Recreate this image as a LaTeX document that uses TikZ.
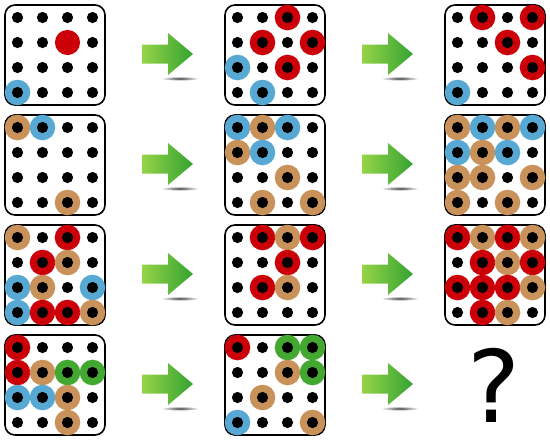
\documentclass[tikz,border=0pt]{standalone}
\usepackage{fontspec}
\usepackage{tikz}
\usepackage{xcolor}
\newfontfamily\signofont{DejaVu Sans}

\definecolor{rojo}{RGB}{204,0,8}
\definecolor{azul}{RGB}{88,168,212}
\definecolor{ocre}{RGB}{200,146,90}
\definecolor{verde}{RGB}{66,168,48}
\definecolor{verdeclaro}{RGB}{150,212,72}
\definecolor{verdeoscuro}{RGB}{52,162,50}

% cuadro: esquina (x,y) y lista col/fila/color
\newcommand{\cuadro}[3]{%
  \draw[marco] (#1,#2) rectangle ++(100,100);
  \foreach \c/\r/\col in {#3}
    \fill[\col] (#1+12.5+25*\c,#2+12.5+25*\r) circle (12.8pt);
  \foreach \c in {0,...,3}
    \foreach \r in {0,...,3}
      \fill (#1+12.5+25*\c,#2+12.5+25*\r) circle (5.6pt);
}

% flecha verde con sombra, centro (x,y)
\newcommand{\flecha}[2]{%
  \shade[inner color=black!75, outer color=white] (#1+13,#2+24.5) ellipse (19pt and 2.2pt);
  \shade[left color=verdeclaro, right color=verdeoscuro]
    (#1-25,#2-9.5) -- (#1+1,#2-9.5) -- (#1+1,#2-21) -- (#1+26,#2)
    -- (#1+1,#2+21) -- (#1+1,#2+9.5) -- (#1-25,#2+9.5) -- cycle;
}

\begin{document}
\begin{tikzpicture}[x=1pt,y=-1pt,
  marco/.style={line width=1.6pt, rounded corners=10pt, fill=white}]
\useasboundingbox (0,0) rectangle (550,440);

% Fila 1
\cuadro{5}{5}{0/3/azul}
\fill[rojo] (5+12.5+50,5+12.5+25) circle (12.6pt);
\cuadro{225}{5}{2/0/rojo, 1/1/rojo, 3/1/rojo, 2/2/rojo, 0/2/azul, 1/3/azul}
\cuadro{445}{5}{1/0/rojo, 3/0/rojo, 2/1/rojo, 3/2/rojo, 0/3/azul}
\flecha{167}{54}
\flecha{387}{54}

% Fila 2
\cuadro{5}{115}{0/0/ocre, 1/0/azul, 2/3/ocre}
\cuadro{225}{115}{0/0/azul, 1/0/ocre, 2/0/azul, 0/1/ocre, 1/1/azul, 2/2/ocre, 1/3/ocre, 3/3/ocre}
\cuadro{445}{115}{0/0/ocre, 1/0/azul, 2/0/ocre, 3/0/azul, 0/1/azul, 1/1/ocre, 2/1/azul,
  0/2/ocre, 1/2/ocre, 3/2/ocre, 0/3/ocre, 2/3/ocre}
\flecha{167}{164}
\flecha{387}{164}

% Fila 3
\cuadro{5}{225}{0/0/ocre, 2/0/rojo, 1/1/rojo, 2/1/ocre, 0/2/azul, 1/2/ocre, 3/2/azul,
  0/3/azul, 1/3/rojo, 2/3/rojo, 3/3/ocre}
\cuadro{225}{225}{1/0/rojo, 2/0/ocre, 3/0/rojo, 2/1/rojo, 1/2/rojo, 2/2/ocre}
\cuadro{445}{225}{0/0/rojo, 1/0/ocre, 2/0/rojo, 3/0/ocre, 1/1/rojo, 2/1/ocre, 3/1/rojo,
  0/2/rojo, 1/2/rojo, 2/2/rojo, 3/2/ocre, 1/3/rojo, 2/3/ocre}
\flecha{167}{274}
\flecha{387}{274}

% Fila 4
\cuadro{5}{335}{0/0/rojo, 0/1/rojo, 1/1/ocre, 2/1/verde, 3/1/verde, 0/2/azul, 1/2/azul,
  2/2/ocre, 2/3/ocre}
\cuadro{225}{335}{0/0/rojo, 2/0/verde, 3/0/verde, 2/1/ocre, 3/1/verde, 1/2/ocre,
  0/3/azul, 3/3/ocre}
\flecha{167}{384}
\flecha{387}{384}

% Pregunta
\node[anchor=base, inner sep=0pt] (pregunta) at (494,422)
  {\signofont\fontsize{100}{100}\selectfont ?};
\end{tikzpicture}
\end{document}
